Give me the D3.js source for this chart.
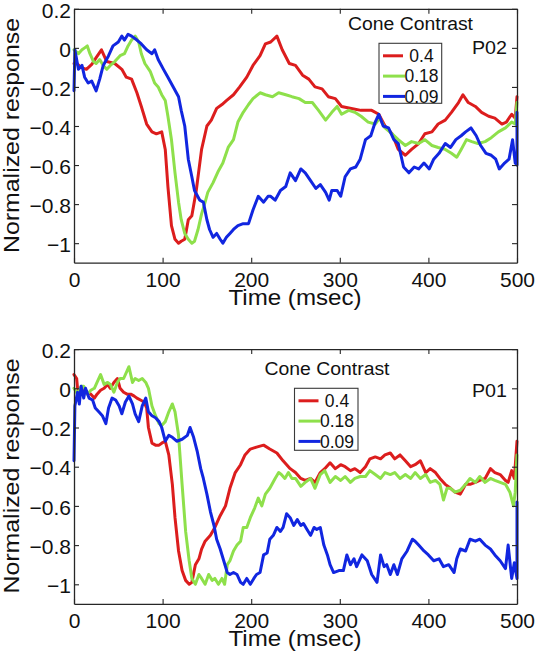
<!DOCTYPE html>
<html><head><meta charset="utf-8">
<script src="https://cdn.jsdelivr.net/npm/d3@7"></script>
<style>
body{margin:0;background:#fff}
svg{display:block}
text{font-family:"Liberation Sans",Arial,Helvetica,sans-serif;fill:#111}
</style>
</head><body>
<svg id="chart" width="535" height="655"></svg>
<script>
// ---------- data ----------
const xTicks = [0, 100, 200, 300, 400, 500];
const yTicks = [0.2, 0, -0.2, -0.4, -0.6, -0.8, -1];
const legendTitle = "Cone Contrast";
const seriesNames = ["0.4", "0.18", "0.09"];
const seriesColors = ["#dc1d1d", "#8ee04b", "#1126e0"];
const panelNames = ["P02", "P01"];

const p02Red = [[0,-0.08],[3,-0.08],[8,-0.1],[14,-0.11],[20,-0.085],[25,-0.05],[31,-0.01],[37,-0.07],[46,-0.08],[54,-0.11],[59,-0.15],[65,-0.16],[71,-0.23],[76,-0.3],[82,-0.39],[88,-0.43],[93,-0.44],[99,-0.43],[103,-0.52],[106,-0.71],[110,-0.91],[114,-0.98],[118,-1.0],[121,-0.99],[125,-0.98],[129,-0.88],[133,-0.86],[138,-0.73],[144,-0.52],[150,-0.4],[155,-0.37],[161,-0.31],[167,-0.29],[172,-0.27],[180,-0.24],[187,-0.2],[195,-0.15],[202,-0.09],[210,-0.04],[216,0.02],[222,0.03],[229,0.06],[235,-0.01],[243,-0.08],[250,-0.09],[258,-0.14],[265,-0.16],[272,-0.2],[280,-0.21],[287,-0.25],[295,-0.26],[302,-0.3],[313,-0.31],[324,-0.32],[336,-0.32],[344,-0.34],[351,-0.4],[359,-0.44],[366,-0.52],[374,-0.55],[381,-0.52],[389,-0.49],[396,-0.44],[404,-0.43],[411,-0.39],[419,-0.37],[426,-0.33],[434,-0.28],[439,-0.24],[445,-0.28],[453,-0.3],[460,-0.33],[468,-0.35],[475,-0.36],[483,-0.39],[488,-0.38],[494,-0.34],[498,-0.36],[500,-0.25]];
const p02Green = [[0,-0.01],[5,-0.03],[9,-0.01],[12,0.0],[15,0.01],[18,-0.03],[22,-0.07],[25,-0.08],[29,-0.06],[33,-0.09],[37,-0.11],[41,-0.09],[46,-0.07],[52,-0.04],[57,-0.03],[61,0.01],[65,0.04],[69,0.06],[73,0.03],[76,-0.03],[80,-0.08],[86,-0.12],[91,-0.18],[95,-0.2],[99,-0.24],[103,-0.27],[106,-0.35],[110,-0.47],[114,-0.64],[118,-0.79],[121,-0.88],[125,-0.95],[129,-0.98],[133,-1.0],[136,-0.99],[140,-0.93],[144,-0.85],[148,-0.79],[151,-0.74],[157,-0.69],[163,-0.63],[168,-0.59],[174,-0.51],[180,-0.47],[185,-0.38],[191,-0.33],[197,-0.29],[202,-0.26],[210,-0.23],[216,-0.24],[224,-0.25],[231,-0.23],[239,-0.24],[246,-0.25],[254,-0.26],[261,-0.28],[269,-0.28],[276,-0.32],[284,-0.37],[291,-0.33],[297,-0.3],[302,-0.34],[310,-0.32],[317,-0.33],[324,-0.35],[332,-0.38],[340,-0.39],[345,-0.36],[351,-0.41],[359,-0.44],[366,-0.47],[374,-0.5],[381,-0.48],[389,-0.49],[396,-0.47],[404,-0.5],[411,-0.51],[419,-0.52],[426,-0.54],[432,-0.56],[437,-0.52],[443,-0.47],[449,-0.48],[456,-0.49],[464,-0.48],[471,-0.46],[479,-0.43],[487,-0.41],[494,-0.38],[498,-0.39],[500,-0.28]];
const p02Blue = [[0,-0.22],[1,-0.01],[5,-0.11],[9,-0.09],[12,-0.15],[16,-0.18],[20,-0.17],[25,-0.22],[29,-0.16],[33,-0.09],[39,-0.04],[44,0.01],[50,0.03],[54,0.06],[57,0.04],[61,0.07],[65,0.06],[71,0.04],[76,0.02],[82,-0.01],[88,-0.03],[91,-0.01],[95,-0.06],[101,-0.11],[106,-0.15],[112,-0.2],[118,-0.25],[121,-0.32],[125,-0.4],[129,-0.57],[133,-0.66],[136,-0.73],[142,-0.78],[146,-0.79],[150,-0.88],[153,-0.93],[157,-0.97],[161,-0.95],[165,-0.98],[168,-1.0],[172,-0.97],[176,-0.95],[180,-0.93],[185,-0.91],[191,-0.9],[197,-0.9],[202,-0.83],[208,-0.76],[214,-0.79],[219,-0.76],[222,-0.76],[227,-0.78],[233,-0.73],[239,-0.71],[244,-0.64],[250,-0.68],[256,-0.62],[261,-0.64],[267,-0.68],[273,-0.72],[278,-0.7],[284,-0.74],[288,-0.78],[291,-0.73],[297,-0.73],[301,-0.76],[306,-0.66],[312,-0.62],[318,-0.61],[323,-0.57],[329,-0.47],[335,-0.45],[340,-0.38],[344,-0.34],[349,-0.4],[355,-0.41],[361,-0.47],[366,-0.49],[372,-0.61],[378,-0.64],[384,-0.61],[389,-0.62],[395,-0.59],[401,-0.62],[406,-0.57],[412,-0.54],[419,-0.49],[425,-0.51],[431,-0.47],[437,-0.45],[442,-0.43],[448,-0.41],[454,-0.45],[459,-0.5],[465,-0.54],[471,-0.55],[476,-0.57],[480,-0.62],[486,-0.59],[491,-0.57],[495,-0.47],[498,-0.59],[500,-0.6],[500,-0.33]];

const p01Red = [[0,0.07],[3,0.05],[4,0.0],[8,-0.02],[11,0.0],[15,-0.02],[19,-0.03],[23,-0.05],[26,-0.03],[30,-0.01],[34,0.0],[38,0.02],[41,0.0],[45,0.03],[49,0.05],[52,0.0],[56,-0.02],[60,-0.03],[64,-0.03],[68,-0.04],[71,-0.05],[75,-0.06],[79,-0.07],[82,-0.1],[84,-0.2],[88,-0.28],[92,-0.29],[96,-0.29],[99,-0.28],[103,-0.27],[107,-0.34],[111,-0.49],[114,-0.66],[118,-0.83],[122,-0.93],[126,-0.98],[130,-1.0],[133,-0.99],[137,-0.9],[141,-0.87],[144,-0.82],[148,-0.78],[154,-0.75],[159,-0.71],[165,-0.65],[171,-0.6],[176,-0.51],[182,-0.43],[188,-0.39],[193,-0.34],[199,-0.31],[206,-0.3],[214,-0.29],[221,-0.31],[229,-0.33],[236,-0.37],[244,-0.41],[250,-0.43],[256,-0.46],[261,-0.47],[267,-0.46],[272,-0.48],[278,-0.43],[283,-0.41],[289,-0.38],[295,-0.41],[301,-0.39],[306,-0.4],[312,-0.42],[317,-0.41],[323,-0.43],[329,-0.4],[334,-0.36],[340,-0.35],[346,-0.36],[351,-0.34],[357,-0.33],[362,-0.36],[368,-0.34],[374,-0.37],[380,-0.4],[385,-0.39],[391,-0.37],[397,-0.43],[402,-0.41],[408,-0.43],[413,-0.46],[419,-0.49],[425,-0.51],[430,-0.53],[436,-0.54],[442,-0.49],[447,-0.49],[453,-0.48],[458,-0.47],[464,-0.46],[470,-0.41],[475,-0.43],[481,-0.44],[487,-0.47],[490,-0.48],[494,-0.42],[497,-0.46],[500,-0.27]];
const p01Green = [[0,0.0],[4,-0.03],[8,0.01],[11,0.01],[15,-0.03],[19,-0.01],[23,0.0],[26,0.03],[30,0.07],[34,0.02],[38,0.03],[41,0.02],[45,-0.02],[49,0.03],[52,0.05],[56,0.05],[60,0.09],[62,0.11],[66,0.03],[69,0.05],[73,0.04],[77,0.05],[81,0.03],[84,0.0],[88,-0.09],[92,-0.14],[96,-0.18],[99,-0.19],[103,-0.17],[107,-0.12],[111,-0.08],[114,-0.12],[118,-0.24],[122,-0.49],[126,-0.73],[130,-0.88],[133,-0.97],[137,-1.0],[141,-0.95],[144,-0.97],[148,-1.0],[152,-0.95],[156,-0.98],[159,-0.97],[163,-1.0],[167,-0.97],[170,-1.0],[173,-0.9],[176,-0.88],[180,-0.83],[184,-0.8],[188,-0.78],[191,-0.71],[195,-0.71],[199,-0.66],[204,-0.61],[208,-0.56],[212,-0.6],[216,-0.54],[221,-0.51],[227,-0.46],[231,-0.43],[234,-0.44],[238,-0.46],[242,-0.43],[246,-0.46],[250,-0.46],[256,-0.5],[261,-0.48],[267,-0.46],[272,-0.51],[278,-0.44],[283,-0.42],[289,-0.48],[295,-0.45],[301,-0.47],[306,-0.45],[312,-0.48],[317,-0.46],[323,-0.45],[329,-0.45],[334,-0.42],[340,-0.44],[346,-0.46],[351,-0.43],[357,-0.44],[362,-0.43],[368,-0.46],[374,-0.44],[380,-0.46],[385,-0.43],[391,-0.46],[397,-0.44],[402,-0.48],[408,-0.47],[413,-0.49],[417,-0.57],[421,-0.51],[425,-0.51],[430,-0.53],[436,-0.52],[442,-0.49],[447,-0.46],[453,-0.48],[458,-0.45],[464,-0.48],[470,-0.46],[475,-0.47],[481,-0.48],[487,-0.49],[492,-0.53],[496,-0.6],[498,-0.53],[500,-0.34]];
const p01Blue = [[0,-0.37],[1,-0.09],[4,-0.02],[6,-0.08],[8,0.01],[11,-0.05],[13,0.0],[17,-0.05],[21,-0.06],[24,-0.1],[28,-0.12],[32,-0.14],[36,-0.18],[39,-0.1],[43,-0.05],[47,-0.06],[51,-0.09],[54,-0.13],[58,-0.07],[62,-0.04],[66,-0.08],[69,-0.13],[73,-0.17],[77,-0.09],[81,-0.05],[84,-0.12],[88,-0.14],[92,-0.15],[96,-0.17],[99,-0.2],[103,-0.27],[107,-0.24],[111,-0.25],[116,-0.27],[122,-0.26],[128,-0.24],[131,-0.2],[135,-0.25],[139,-0.32],[143,-0.41],[146,-0.46],[150,-0.54],[154,-0.63],[158,-0.7],[161,-0.77],[165,-0.82],[169,-0.88],[173,-0.94],[176,-0.95],[180,-0.94],[184,-0.95],[188,-0.99],[191,-1.0],[195,-0.97],[199,-1.0],[203,-0.97],[206,-0.95],[210,-0.94],[214,-0.85],[218,-0.84],[221,-0.77],[225,-0.75],[229,-0.71],[233,-0.73],[236,-0.71],[240,-0.64],[244,-0.66],[248,-0.7],[252,-0.67],[256,-0.7],[259,-0.69],[263,-0.72],[267,-0.75],[271,-0.71],[274,-0.72],[278,-0.71],[282,-0.8],[286,-0.85],[289,-0.9],[293,-0.94],[299,-0.93],[304,-0.93],[308,-0.85],[312,-0.9],[316,-0.87],[319,-0.91],[325,-0.85],[331,-0.88],[336,-0.95],[342,-0.99],[346,-0.85],[350,-0.91],[353,-0.9],[357,-0.95],[361,-0.9],[365,-0.95],[370,-0.87],[376,-0.83],[382,-0.77],[385,-0.78],[389,-0.8],[395,-0.83],[400,-0.85],[406,-0.88],[412,-0.87],[417,-0.91],[423,-0.9],[429,-0.94],[432,-0.87],[436,-0.82],[442,-0.83],[447,-0.77],[453,-0.78],[458,-0.77],[464,-0.8],[470,-0.82],[475,-0.85],[481,-0.88],[487,-0.92],[490,-0.8],[494,-0.97],[497,-0.89],[500,-0.97],[500,-0.58]];

// ---------- layout ----------
const svg = d3.select("#chart");
const left = 74, right = 517;
const panels = [
  {name: panelNames[0], series: [p02Red, p02Green, p02Blue], top: 8.8, bottom: 262.7,
   legend: {x: 379, y: 43.3, w: 62.7, h: 60}, titleX: 410.5, titleY: 30, tagX: 507, tagY: 54,
   ylabelY: 135.5, xlabelY: 305},
  {name: panelNames[1], series: [p01Red, p01Green, p01Blue], top: 349.1, bottom: 603.9,
   legend: {x: 294.5, y: 388.3, w: 63.5, h: 62}, titleX: 327, titleY: 375, tagX: 507, tagY: 396.7,
   ylabelY: 476, xlabelY: 646}
];

const x = d3.scaleLinear().domain([0, 500]).range([left, right]);
const fmt = d => d === 0 ? "0" : (d < 0 ? "\u2212" + String(Math.abs(d)) : String(d));

panels.forEach(p => {
  const y = d3.scaleLinear().domain([-1.1, 0.2]).range([p.bottom, p.top]);
  const g = svg.append("g");

  // curves
  const line = d3.line().x(d => x(d[0])).y(d => y(d[1]));
  p.series.forEach((s, i) => {
    g.append("path").datum(s).attr("d", line)
      .attr("fill", "none").attr("stroke", seriesColors[i])
      .attr("stroke-width", 3).attr("stroke-linejoin", "round").attr("stroke-linecap", "round");
  });

  // axes
  const gb = g.append("g").attr("transform", `translate(0,${p.bottom})`)
    .call(d3.axisBottom(x).tickValues(xTicks).tickSizeInner(-5).tickSizeOuter(0).tickPadding(9.5).tickFormat(d => d));
  const gt = g.append("g").attr("transform", `translate(0,${p.top})`)
    .call(d3.axisTop(x).tickValues(xTicks).tickSizeInner(-5).tickSizeOuter(0).tickFormat(""));
  const gl = g.append("g").attr("transform", `translate(${left},0)`)
    .call(d3.axisLeft(y).tickValues(yTicks).tickSizeInner(-5).tickSizeOuter(0).tickPadding(3).tickFormat(fmt));
  const gr = g.append("g").attr("transform", `translate(${right},0)`)
    .call(d3.axisRight(y).tickValues(yTicks).tickSizeInner(-5).tickSizeOuter(0).tickFormat(""));
  [gb, gt, gl, gr].forEach(a => {
    a.select(".domain").attr("stroke", "#262626").attr("stroke-width", 1.3);
    a.selectAll(".tick line").attr("stroke", "#262626").attr("stroke-width", 1.1);
    a.selectAll(".tick text").attr("font-size", 21).attr("fill", "#111")
      .attr("font-family", "'Liberation Sans',Arial,sans-serif");
  });
  gl.selectAll(".tick text").attr("dy", "0.39em");

  // axis titles
  g.append("text").attr("x", (left + right) / 2 - 0.5).attr("y", p.xlabelY)
    .attr("text-anchor", "middle").attr("font-size", 22)
    .attr("textLength", 133).attr("lengthAdjust", "spacingAndGlyphs").text("Time (msec)");
  g.append("text").attr("transform", `translate(18.5,${p.ylabelY}) rotate(-90)`)
    .attr("text-anchor", "middle").attr("font-size", 22)
    .attr("textLength", 235).attr("lengthAdjust", "spacingAndGlyphs").text("Normalized response");

  // legend title & panel tag
  g.append("text").attr("x", p.titleX).attr("y", p.titleY).attr("text-anchor", "middle")
    .attr("font-size", 17.5).attr("textLength", 125).attr("lengthAdjust", "spacingAndGlyphs").text(legendTitle);
  g.append("text").attr("x", p.tagX).attr("y", p.tagY).attr("text-anchor", "end")
    .attr("font-size", 18).attr("textLength", 35).attr("lengthAdjust", "spacingAndGlyphs").text(p.name);

  // legend
  const L = p.legend;
  const lg = g.append("g").attr("transform", `translate(${L.x},${L.y})`);
  lg.append("rect").attr("width", L.w).attr("height", L.h)
    .attr("fill", "#fff").attr("stroke", "#3a3a3a").attr("stroke-width", 1.1);
  const rowH = 20.3, row0 = 12.5;
  seriesNames.forEach((n, i) => {
    const yy = row0 + i * rowH;
    const lineEnd = i === 0 ? 24 : 26;
    lg.append("line").attr("x1", 4).attr("x2", lineEnd).attr("y1", yy).attr("y2", yy)
      .attr("stroke", seriesColors[i]).attr("stroke-width", 3);
    lg.append("text").attr("x", 42.5).attr("y", yy).attr("dy", "0.36em")
      .attr("text-anchor", "middle").attr("font-size", 17.5).text(n);
  });
});
</script>
</body></html>
